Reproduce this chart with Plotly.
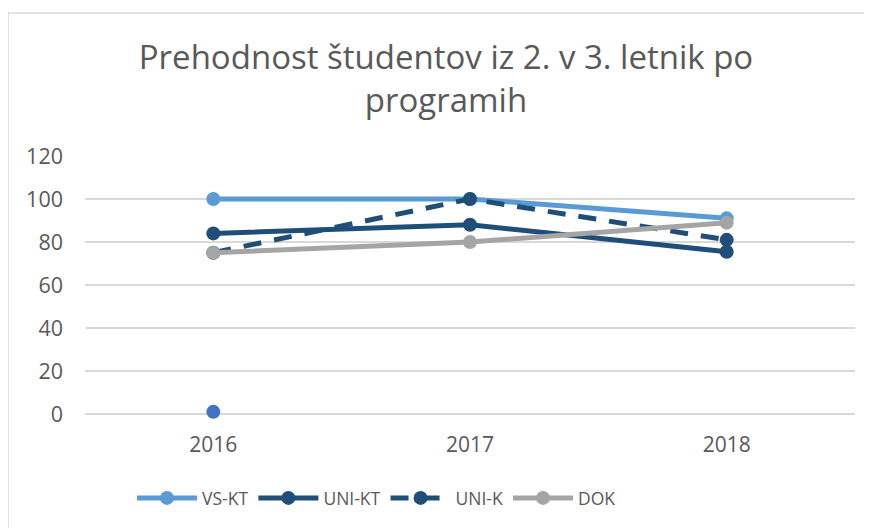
import plotly.graph_objects as go

years = ["2016", "2017", "2018"]
vs_kt = [100, 100, 91]
uni_kt = [84, 88, 75.5]
uni_k = [75, 100, 81]
dok = [75, 80, 89]
extra_x = ["2016"]
extra_y = [1]
y_ticks = [0, 20, 40, 60, 80, 100, 120]
title_text = "Prehodnost študentov iz 2. v 3. letnik po<br>programih"

# page body adds an 8px offset; coordinates below are reference pixels minus 8
OFF = 8
W, H = 872, 528
L = 85 - OFF
T = 156 - OFF
R = W - (855 - OFF)
B = H - (414 - OFF)
PW, PH = W - L - R, H - T - B

def px(x):
    return (x - OFF - L) / PW

def py(y):
    return (H - B - (y - OFF)) / PH

FONT = "Open Sans"
TXT = "#595959"

fig = go.Figure()
series = [
    ("VS-KT", vs_kt, "#5B9BD5", "solid"),
    ("UNI-KT", uni_kt, "#1F4E79", "solid"),
    ("UNI-K", uni_k, "#1F4E79", "18px,13px"),
    ("DOK", dok, "#A5A5A5", "solid"),
]
for name, vals, col, dash in series:
    fig.add_trace(go.Scatter(
        x=years, y=vals, name=name, mode="lines+markers",
        line=dict(color=col, width=5, dash=dash),
        marker=dict(color=col, size=14),
        cliponaxis=False,
    ))
fig.add_trace(go.Scatter(
    x=extra_x, y=extra_y, mode="markers", showlegend=False,
    marker=dict(color="#4472C4", size=14), cliponaxis=False,
))

fig.update_layout(
    width=W, height=H,
    margin=dict(l=L, r=R, t=T, b=B),
    paper_bgcolor="white", plot_bgcolor="white",
    font=dict(family=FONT, color=TXT, size=17),
    title=dict(text=title_text, x=(446 - OFF) / W, xanchor="center",
               y=1 - (69 - OFF) / H, yanchor="middle", yref="container",
               font=dict(family=FONT, size=33, color=TXT)),
    xaxis=dict(type="category", range=[-0.5, 2.5], showgrid=False,
               showline=False, ticks="", ticklabelstandoff=16,
               tickfont=dict(size=21, color=TXT)),
    yaxis=dict(range=[0, 120], tickvals=y_ticks, showgrid=True,
               gridcolor="#D9D9D9", gridwidth=1.5, zeroline=True,
               zerolinecolor="#D9D9D9", zerolinewidth=1.5,
               showline=False, ticks="", ticklabelstandoff=21,
               tickfont=dict(size=21.5, color=TXT)),
    legend=dict(orientation="h", x=px(132), xanchor="left",
                y=py(498), yanchor="middle", yref="paper",
                font=dict(size=17.5, color=TXT), itemwidth=60,
                traceorder="normal"),
    showlegend=True,
)

fig.add_shape(type="line", xref="paper", yref="paper",
              x0=px(8), y0=py(13), x1=px(W + 20), y1=py(13),
              line=dict(color="#D9D9D9", width=1.5))
fig.add_shape(type="line", xref="paper", yref="paper",
              x0=px(8), y0=py(13), x1=px(8), y1=py(H + 20),
              line=dict(color="#D9D9D9", width=1.5))

fig.write_html("out.html")
